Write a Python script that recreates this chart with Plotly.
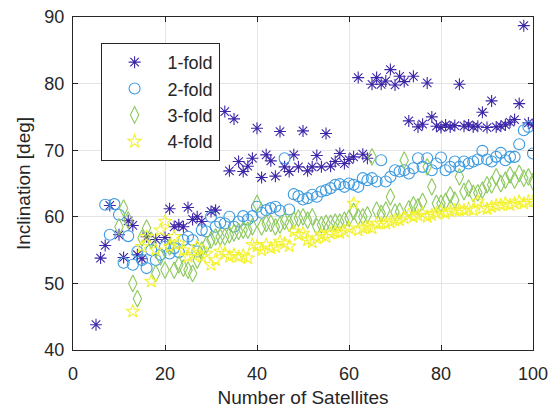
import plotly.graph_objects as go

# Inclination vs. constellation size for each fold configuration
n1 = [5, 6, 7, 8, 10, 11, 12, 13, 14, 15, 16, 18, 20, 21, 22, 23, 24, 25, 26, 27, 28, 30, 31,
      33, 34, 35, 36, 37, 38, 39, 40, 41, 42, 43, 44, 45, 46, 47, 48, 49, 50, 51, 52, 53, 54, 55,
      56, 57, 58, 59, 60, 61, 62, 63, 64, 65, 66, 67, 68, 69, 70, 71, 72, 73, 74, 75, 76, 77, 78,
      79, 80, 81, 82, 83, 84, 85, 86, 87, 88, 89, 90, 91, 92, 93, 94, 95, 96, 97, 98, 99, 100]
inc1 = [43.8, 53.8, 55.7, 61.7, 57.3, 53.9, 59.4, 58.7, 54.3, 53.7, 57.0, 56.6, 56.9, 61.2, 58.5,
        58.8, 58.5, 61.4, 59.6, 60.0, 59.3, 60.8, 61.0,
        75.8, 66.9, 74.7, 68.3, 66.8, 67.6, 68.8, 73.3, 65.9, 69.3, 68.4, 66.1, 72.8, 67.5, 66.8,
        69.3, 67.5, 72.9, 66.9, 67.5, 69.2, 67.5, 72.5,
        67.6, 68.3, 69.5, 68.0, 68.6, 69.0, 80.9, 69.4, 68.8, 79.9, 80.9, 79.9, 80.4, 82.1, 79.8,
        81.1, 80.3, 74.4, 81.1, 73.5, 73.9, 80.1, 75.0,
        73.6, 73.4, 73.8, 73.5, 73.7, 79.9, 73.6, 73.8, 73.5, 73.6, 75.7, 73.4, 77.4, 73.5, 73.6,
        73.8, 74.2, 74.6, 77.0, 88.7, 74.1, 73.8]

n2 = list(range(7, 101))
inc2 = [61.8, 57.3, 61.9, 60.3, 53.1, 57.1, 52.8, 54.8, 53.5, 52.3, 55.0, 53.5, 54.3, 55.5,
        54.5, 55.3, 54.7, 56.5, 57.0, 56.5, 54.8, 58.0, 57.8, 60.0, 58.5, 59.1, 59.0, 60.0,
        58.5, 59.3, 60.1, 59.6, 60.1, 61.5, 60.6, 61.0, 61.3, 61.5, 60.9, 68.8, 61.1, 63.4,
        63.1, 62.6, 62.8, 63.3, 63.0, 63.8, 64.0, 64.3, 64.8, 64.9, 64.5, 65.0, 64.8, 64.5,
        65.8, 65.5, 65.8, 65.3, 68.5, 65.3, 66.0, 67.0, 66.8, 67.0, 66.5, 67.3, 68.8, 67.5,
        68.8, 67.0, 68.0, 68.9, 67.0, 67.5, 68.3, 67.5, 68.3, 68.0, 68.3, 68.6, 69.9, 68.6,
        68.3, 69.0, 69.6, 68.5, 69.0, 69.0, 70.9, 73.0, 73.5, 69.5]

n3 = list(range(10, 101))
inc3 = [58.5, 61.3, 59.5, 50.0, 47.7, 56.8, 58.3, 56.5, 51.5, 54.0, 52.0, 55.5, 52.0, 52.8,
        52.3, 52.0, 51.5, 53.5, 55.0, 55.8, 56.5, 57.0, 57.0, 57.0, 57.3, 57.6, 57.8, 58.0,
        58.0, 58.5, 62.0, 58.5, 59.0, 59.0, 58.5, 58.8, 59.3, 59.0, 59.5, 59.8, 60.0, 59.5,
        60.0, 58.5, 58.8, 59.0, 59.0, 59.2, 59.2, 59.5, 59.8, 60.8, 60.0, 60.0, 60.3, 69.0,
        61.0, 60.5, 61.0, 63.0, 60.7, 60.8, 68.5, 61.2, 61.8, 61.5, 62.3, 67.5, 64.5, 62.0,
        62.0, 62.3, 63.3, 62.5, 66.0, 63.8, 64.3, 63.5, 63.6, 64.0, 64.8, 64.8, 66.0, 65.0,
        65.5, 66.3, 65.5, 66.5, 65.8, 66.0, 65.3]

n4 = [13] + list(range(15, 101))
inc4 = [45.8, 55.5, 57.0, 50.3, 55.0, 58.0, 59.3, 55.5, 57.0, 56.0, 55.0, 54.0, 54.3, 55.5,
        54.0, 54.5, 52.8, 53.5, 54.8, 54.5, 54.0, 54.3, 54.0, 54.2, 53.8, 55.8, 55.6, 55.0,
        55.8, 55.3, 55.5, 56.3, 56.0, 55.6, 57.8, 57.3, 57.5, 56.5, 56.2, 56.8, 57.3, 57.0,
        57.5, 57.7, 57.6, 57.8, 58.3, 62.0, 58.0, 58.3, 58.5, 58.3, 59.0, 59.0, 59.0, 59.2,
        59.5, 59.5, 59.8, 60.3, 60.0, 60.2, 60.5, 60.0, 60.3, 60.5, 60.8, 60.5, 60.8, 61.0,
        61.0, 61.0, 61.2, 61.0, 62.3, 61.3, 61.2, 61.5, 61.7, 61.8, 62.0, 61.8, 62.0, 62.3,
        62.0, 62.3, 62.3]

series = [
    ("1-fold", n1, inc1, "asterisk-open", "#3e26a8", 10),
    ("2-fold", n2, inc2, "circle-open", "#3d9be0", 11),
    ("3-fold", n3, inc3, "diamond-tall-open", "#8cc95c", 12),
    ("4-fold", n4, inc4, "star-open", "#f2f230", 10),
]

fig = go.Figure()
for name, xs, ys, sym, col, sz in series:
    fig.add_trace(go.Scatter(
        x=xs, y=ys, mode="markers", name=name, legendgroup=name,
        marker=dict(symbol=sym, size=sz, color=col, line=dict(color=col, width=1.1)),
    ))

font = "Liberation Sans, Arial, sans-serif"
ink = "#262626"
axis_common = dict(
    showline=True, linecolor=ink, linewidth=1, mirror="ticks",
    ticks="inside", ticklen=5, tickcolor=ink,
    showgrid=True, gridcolor="#e4e4e4", gridwidth=1, zeroline=False,
    tickfont=dict(family=font, size=18, color=ink),
    automargin=False,
)
fig.update_layout(
    width=554, height=410,
    margin=dict(l=73, r=21, t=17, b=60),
    paper_bgcolor="white", plot_bgcolor="white",
    font=dict(family=font, size=18, color=ink),
    xaxis=dict(range=[0, 100], dtick=20, ticklabelstandoff=7,
               title=dict(text="Number of Satellites", font=dict(size=19), standoff=8),
               **axis_common),
    yaxis=dict(range=[40, 90], dtick=10, ticklabelstandoff=4,
               title=dict(text="Inclination [deg]", font=dict(size=19), standoff=8),
               **axis_common),
    legend=dict(x=0.06, y=0.922, xanchor="left", yanchor="top",
                bgcolor="white", bordercolor=ink, borderwidth=1,
                font=dict(family=font, size=18, color=ink),
                itemwidth=56,
                traceorder="grouped", tracegroupgap=0),
    showlegend=True,
)

fig.write_html("out.html")
